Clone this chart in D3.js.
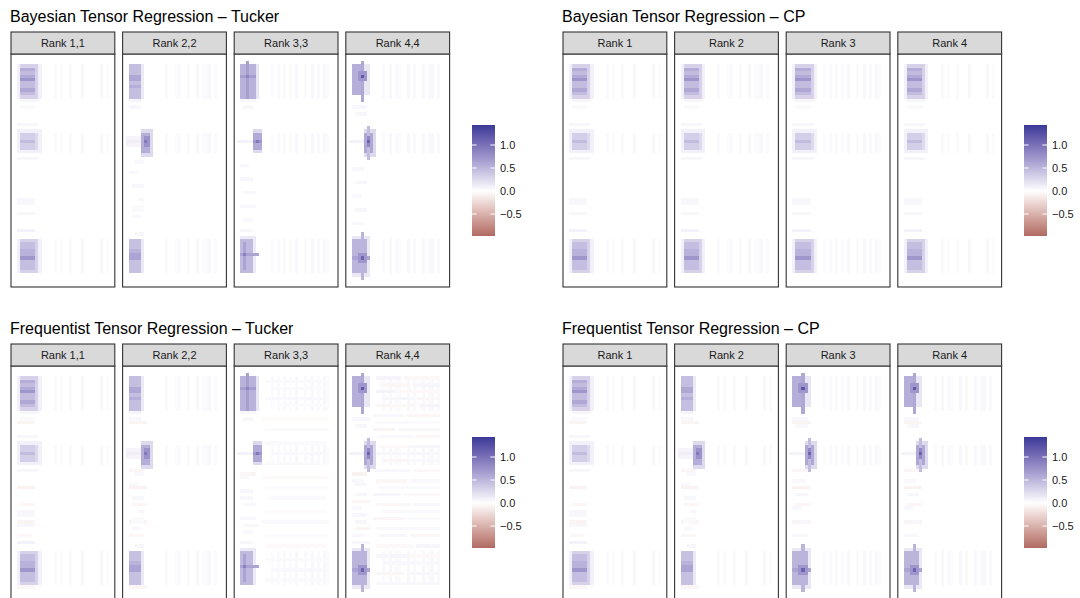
<!DOCTYPE html>
<html><head><meta charset="utf-8">
<script src="https://cdn.jsdelivr.net/npm/d3@7"></script>
<style>body{margin:0;background:#fff}text{font-family:"Liberation Sans",Arial,Helvetica,sans-serif}</style>
</head><body><svg id="c" width="1080" height="598"></svg>
<script>
// ---------------- data ----------------
const groupTitles = ["Bayesian Tensor Regression \u2013 Tucker", "Bayesian Tensor Regression \u2013 CP",
                     "Frequentist Tensor Regression \u2013 Tucker", "Frequentist Tensor Regression \u2013 CP"];
const tuckerRanks = ["Rank 1,1", "Rank 2,2", "Rank 3,3", "Rank 4,4"];
const cpRanks = ["Rank 1", "Rank 2", "Rank 3", "Rank 4"];
const legendTicks = [1.0, 0.5, 0.0, -0.5];
const fillRange = [-0.978, 1.435];
const gridCols = 34, gridRows = 68;
const rowBands = [[3, 10], [23, 6], [54, 10]];   // [row0, nrows] of the coefficient bands

// patches: [col0, row0, ncols, nrows, value]
const blobsA = [   // left-aligned blobs (rank 1 type)
  [2,3,8,10,0.1],[3,3,6,10,0.3],[3,4,5,8,0.45],[3,4,5,1,0.55],[3,7,5,1,0.72],[3,6,5,1,0.58],[3,10,5,1,0.6],
  [3,13,6,1,0.06],[3,15,5,1,0.04],
  [2,20,7,1,0.06],[2,22,8,7,0.1],[3,23,6,5,0.24],[3,23,5,5,0.32],[3,25,5,1,0.45],[2,30,7,1,0.06],
  [2,42,6,1,0.06],[2,43,6,1,0.05],[2,46,6,1,0.06],[2,51,6,1,0.09],
  [2,54,8,10,0.1],[3,54,6,10,0.3],[3,55,5,8,0.44],[3,57,5,3,0.52],[3,59,5,1,0.72]
];
const blobsB = [   // middle blob shifted right (rank 2 type)
  [2,3,5,10,0.14],[2,3,4,10,0.44],[2,6,4,2,0.6],[2,9,4,1,0.55],[2,13,4,1,0.07],[2,15,4,1,0.05],
  [1,24,5,3,0.07],[1,25,5,1,0.12],[6,22,4,8,0.25],[6,23,3,6,0.55],[7,24,2,3,0.75],[7,25,1,1,0.95],
  [4,31,3,1,0.05],[2,34,3,1,0.05],[3,38,4,1,0.06],[5,42,2,1,0.06],[3,44,4,2,0.04],[3,47,3,1,0.05],[4,52,3,1,0.06],
  [2,54,5,10,0.14],[2,54,4,10,0.42],[2,57,4,1,0.52],[2,58,4,2,0.62]
];
const blobsC = [   // rank 3 type
  [2,3,6,10,0.16],[2,3,5,10,0.52],[4,2,1,12,0.66],[2,6,5,1,0.66],[4,6,1,1,0.85],[2,13,5,1,0.06],[3,15,3,1,0.06],
  [1,25,5,1,0.08],[6,22,3,7,0.25],[6,23,3,5,0.58],[6,25,3,1,0.72],[7,25,1,1,0.95],
  [2,32,3,1,0.05],[2,36,4,1,0.06],[3,40,4,1,0.05],[2,44,5,1,0.05],[3,48,3,1,0.05],[2,51,4,1,0.06],
  [2,53,5,11,0.14],[2,54,4,10,0.47],[3,55,1,8,0.62],[2,58,6,1,0.62],[3,58,1,1,0.88]
];
const blobsD = [   // rank 4 type
  [2,3,6,9,0.16],[2,3,4,9,0.55],[5,2,1,12,0.6],[4,5,3,3,0.72],[5,6,1,1,1.2],
  [2,15,5,1,0.05],[3,17,4,1,0.05],[1,25,5,1,0.08],
  [6,22,4,8,0.25],[6,23,3,6,0.6],[7,21,1,10,0.45],[7,24,1,3,0.82],[7,25,1,1,1.1],
  [2,33,4,1,0.05],[3,37,4,1,0.06],[2,41,3,1,0.05],[3,45,4,1,0.06],[2,49,4,1,0.05],
  [2,53,6,12,0.15],[2,54,5,10,0.5],[5,52,1,14,0.5],[2,59,6,1,0.62],[4,58,3,3,0.72],[5,59,1,1,1.1]
];
// faint vertical stripes inside the bands: [col, value]
const stripesA = [[14,0.04],[16,0.03],[19,0.04],[23,0.05],[29,0.05],[31,0.03]];
const stripesB = [[14,0.04],[17,0.03],[18,0.04],[21,0.04],[24,0.05],[26,0.03],[27,0.04],[28,0.05],[30,0.04]];
const stripesC = [[12,0.03],[14,0.04],[16,0.04],[18,0.03],[20,0.05],[23,0.04],[25,0.05],[27,0.04],[29,0.05],[30,0.03]];
const stripesD = [[12,0.04],[14,0.05],[16,0.04],[17,0.03],[20,0.05],[22,0.04],[25,0.05],[27,0.04],[28,0.05],[30,0.04]];
// faint horizontal noise: [row, col0, ncols, value]
const noiseRed = [[16,2,6,-0.07],[30,2,5,-0.06],[35,2,6,-0.08],[40,3,5,-0.06],[45,2,6,-0.07],[49,2,5,-0.05],[64,2,6,-0.06]];
const noiseMid = [[4,10,21,0.04],[6,12,18,0.035],[9,10,20,0.045],[11,14,16,0.03],[15,9,22,-0.03],[18,10,21,0.035],
  [22,10,20,0.04],[25,12,19,0.045],[28,10,18,0.035],[32,9,22,-0.035],[35,10,21,0.03],[38,11,19,0.035],[42,10,20,-0.03],
  [45,9,22,0.035],[49,10,21,0.03],[52,10,20,-0.035],[56,10,21,0.04],[59,12,18,0.045],[62,10,20,0.035],
  [31,2,5,-0.06],[38,2,4,0.05],[46,3,5,-0.05]];
const noiseHeavy = [[3,10,8,0.07],[3,19,12,-0.045],[5,11,10,-0.05],[5,22,9,0.06],[7,10,6,0.08],[7,17,14,-0.04],
  [9,13,9,0.06],[9,23,8,-0.05],[11,10,12,-0.045],[11,24,7,0.07],[14,9,10,0.05],[14,20,11,-0.06],[16,10,21,0.035],
  [18,9,7,-0.07],[18,17,14,0.05],[20,11,11,0.045],[20,23,8,-0.05],[23,11,9,-0.045],[23,21,10,0.06],[25,10,21,0.05],
  [27,12,8,-0.06],[27,21,10,0.045],[30,9,12,0.05],[30,22,9,-0.045],[33,10,10,-0.05],[33,21,10,0.045],[35,11,20,0.035],
  [37,9,9,0.06],[37,19,12,-0.045],[40,10,11,-0.05],[40,22,9,0.05],[42,12,19,0.045],[44,9,10,-0.06],[44,20,11,0.035],
  [47,10,21,0.045],[49,11,9,0.05],[49,21,10,-0.05],[52,10,12,-0.045],[52,23,8,0.06],[55,10,10,0.06],[55,21,10,-0.035],
  [57,12,19,0.045],[60,10,9,-0.05],[60,20,11,0.05],[63,10,21,0.045],
  [15,2,6,-0.07],[31,2,5,-0.08],[34,3,4,0.06],[39,2,6,-0.06],[43,2,5,0.05],[47,3,5,-0.07],[51,2,6,0.05]];
const none = [];

// facets per group: [blobs, stripes, noise]
const facetsBT = [[blobsA,stripesA,none],[blobsB,stripesB,none],[blobsC,stripesC,none],[blobsD,stripesD,none]];
const facetsBC = [[blobsA,stripesA,none],[blobsA,stripesB,none],[blobsA,stripesC,none],[blobsA,stripesA,none]];
const facetsFT = [[blobsA,stripesA,noiseRed],[blobsB,stripesB,noiseRed],[blobsC,stripesC,noiseMid],[blobsD,stripesD,noiseHeavy]];
const facetsFC = [[blobsA,stripesA,noiseRed],[blobsB,stripesA,noiseRed],[blobsD,stripesC,noiseRed],[blobsD,stripesD,noiseRed]];

// ---------------- drawing ----------------
const svg = d3.select("#c");
const ext = Math.max(Math.abs(fillRange[0]), Math.abs(fillRange[1]));
const fill = d3.scaleLinear().domain([-ext, 0, ext]).range(["#832424", "#ffffff", "#3A3A98"])
  .interpolate(d3.interpolateLab).clamp(true);

const groups = [
  {x0: 11, y0: 32, title: groupTitles[0], labels: tuckerRanks, facets: facetsBT},
  {x0: 563, y0: 32, title: groupTitles[1], labels: cpRanks, facets: facetsBC},
  {x0: 11, y0: 344, title: groupTitles[2], labels: tuckerRanks, facets: facetsFT},
  {x0: 563, y0: 344, title: groupTitles[3], labels: cpRanks, facets: facetsFC}
];
const facetW = 103.8, facetStep = 111.6, stripH = 22, panelH = 233;

// gradient for colourbar
const defs = svg.append("defs");
const grad = defs.append("linearGradient").attr("id", "cbar").attr("x1", 0).attr("x2", 0).attr("y1", 1).attr("y2", 0);
d3.range(0, 101).forEach(i => {
  const v = fillRange[0] + (fillRange[1] - fillRange[0]) * i / 100;
  grad.append("stop").attr("offset", i + "%").attr("stop-color", fill(v));
});

groups.forEach((g, gi) => {
  const G = svg.append("g");
  G.append("text").attr("x", g.x0 - 1).attr("y", g.y0 - 10).attr("font-size", 16).attr("fill", "#000").text(g.title);
  g.facets.forEach((f, fi) => {
    const fx = g.x0 + fi * facetStep, py = g.y0 + stripH;
    const xs = d3.scaleLinear().domain([0, gridCols]).range([fx, fx + facetW]);
    const ys = d3.scaleLinear().domain([0, gridRows]).range([py, py + panelH]);
    const cid = "clip" + gi + "_" + fi;
    defs.append("clipPath").attr("id", cid).append("rect").attr("x", fx).attr("y", py).attr("width", facetW).attr("height", panelH);
    const P = G.append("g").attr("clip-path", `url(#${cid})`);
    P.append("rect").attr("x", fx).attr("y", py).attr("width", facetW).attr("height", panelH).attr("fill", "#fff");
    const [blobs, stripes, noise] = f;
    const cells = [];
    stripes.forEach(([c, v]) => rowBands.forEach(([r0, h]) => cells.push([c, r0, 1, h, v])));
    noise.forEach(([r, c0, w, v]) => cells.push([c0, r, w, 1, v]));
    blobs.forEach(b => cells.push(b));
    P.selectAll("rect.cell").data(cells).join("rect").attr("class", "cell")
      .attr("x", d => xs(d[0])).attr("y", d => ys(d[1]))
      .attr("width", d => xs(d[0] + d[2]) - xs(d[0])).attr("height", d => ys(d[1] + d[3]) - ys(d[1]))
      .attr("fill", d => fill(d[4])).attr("shape-rendering", "crispEdges");
    G.append("rect").attr("x", fx).attr("y", py).attr("width", facetW).attr("height", panelH)
      .attr("fill", "none").attr("stroke", "#333").attr("stroke-width", 1.1);
    G.append("rect").attr("x", fx).attr("y", g.y0).attr("width", facetW).attr("height", stripH)
      .attr("fill", "#D9D9D9").attr("stroke", "#333").attr("stroke-width", 1.1);
    G.append("text").attr("x", fx + facetW / 2).attr("y", g.y0 + 15).attr("text-anchor", "middle")
      .attr("font-size", 11).attr("fill", "#1a1a1a").text(g.labels[fi]);
  });
  // colourbar
  const bx = g.x0 + 461, by = g.y0 + 93, bw = 23, bh = 111;
  const ly = d3.scaleLinear().domain(fillRange).range([by + bh, by]);
  G.append("rect").attr("x", bx).attr("y", by).attr("width", bw).attr("height", bh).attr("fill", "url(#cbar)");
  legendTicks.forEach(t => {
    const y = ly(t);
    G.append("line").attr("x1", bx).attr("x2", bx + 4.6).attr("y1", y).attr("y2", y).attr("stroke", "#fff").attr("stroke-width", 1);
    G.append("line").attr("x1", bx + bw - 4.6).attr("x2", bx + bw).attr("y1", y).attr("y2", y).attr("stroke", "#fff").attr("stroke-width", 1);
    G.append("text").attr("x", bx + 28).attr("y", y + 4).attr("font-size", 11).attr("fill", "#1a1a1a")
      .text(t < 0 ? "\u2212" + Math.abs(t).toFixed(1) : t.toFixed(1));
  });
});
</script></body></html>
